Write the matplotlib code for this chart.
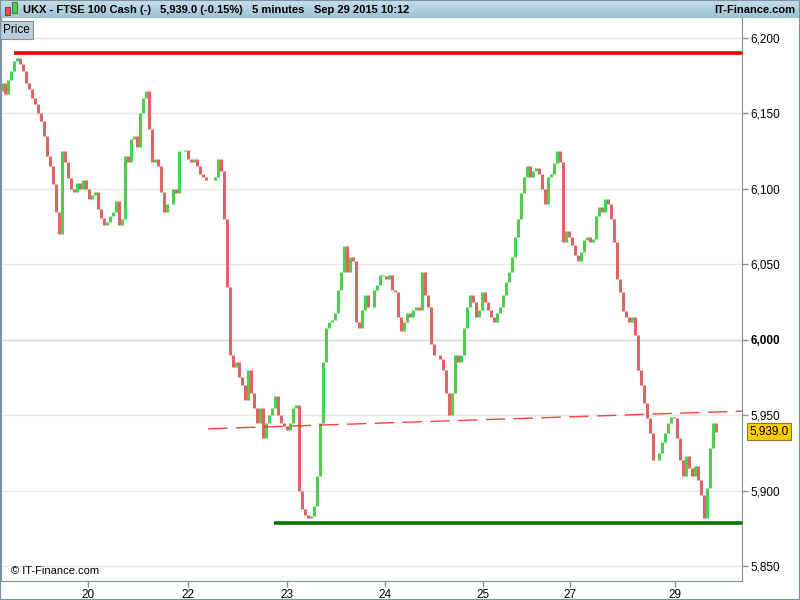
import numpy as np
import matplotlib
matplotlib.use('Agg')
import matplotlib.pyplot as plt
from matplotlib.patches import Rectangle

plt.rcParams['font.family'] = ['Liberation Sans', 'DejaVu Sans']

# 5-minute closes (one bar = ~15 minutes of the original)
closes = [
    6170, 6163, 6172, 6178, 6185, 6187, 6183, 6178, 6170, 6166,
    6160, 6156, 6150, 6145, 6135, 6122, 6115, 6103, 6085, 6070,
    6125, 6118, 6107, 6100, 6098, 6104, 6100, 6106, 6100, 6093,
    6096, 6098, 6087, 6081, 6076, 6078, 6082, 6085, 6092, 6076,
    6080, 6122, 6118, 6133, 6135, 6128, 6150, 6160, 6165, 6140,
    6118, 6120, 6115, 6098, 6085, 6090, 6090, 6100, 6097, 6125,
    6125, 6126, 6120, 6118, 6120, 6115, 6110, 6108, 6106, 6106,
    6106, 6108, 6120, 6112, 6080, 6035, 5990, 5982, 5985, 5975,
    5970, 5960, 5980, 5965, 5955, 5945, 5955, 5935, 5945, 5950,
    5955, 5963, 5950, 5945, 5943, 5940, 5945, 5955, 5957, 5900,
    5888, 5884, 5882, 5883, 5890, 5910, 5945, 5985, 6008, 6012,
    6013, 6018, 6033, 6045, 6062, 6045, 6055, 6052, 6012, 6008,
    6020, 6030, 6022, 6022, 6033, 6036, 6043, 6042, 6040, 6043,
    6033, 6032, 6015, 6006, 6012, 6018, 6015, 6020, 6022, 6020,
    6045, 6030, 6022, 5997, 5990, 5990, 5987, 5980, 5965, 5950,
    5965, 5990, 5985, 5990, 6008, 6022, 6030, 6025, 6015, 6020,
    6032, 6025, 6020, 6015, 6012, 6018, 6022, 6030, 6038, 6045,
    6055, 6068, 6080, 6097, 6108, 6115, 6108, 6112, 6114, 6110,
    6100, 6090, 6108, 6110, 6117, 6125, 6118, 6065, 6072, 6068,
    6063, 6056, 6052, 6058, 6066, 6068, 6065, 6067, 6082, 6088,
    6085, 6093, 6090, 6080, 6065, 6040, 6032, 6019, 6015, 6012,
    6015, 6003, 5980, 5970, 5958, 5948, 5938, 5920, 5920, 5925,
    5932, 5938, 5945, 5949, 5948, 5935, 5920, 5910, 5923, 5915,
    5910, 5916, 5907, 5897, 5882, 5902, 5928, 5945, 5939,
]
first_open = 6165

day_ticks = [28.7, 62, 95, 127.7, 160.3, 189.3, 224.3]
day_labels = ['20', '22', '23', '24', '25', '27', '29']
price_ticks = [5850, 5900, 5950, 6000, 6050, 6100, 6150, 6200]

resistance = 6190
resistance_from = 4
support = 5878.5
support_from = 90.7
trend_x = [68.7, 246.7]
trend_y = [5941, 5952.7]
last_price = 5939.0

green = '#4ccf4c'
red = '#e06464'
frame = '#7d929c'

fig = plt.figure(figsize=(8, 6), dpi=100)
ax = fig.add_axes([1/800, 19/600, 741/800, 563/600])

x = np.arange(len(closes))
opens = np.array([first_open] + closes[:-1], dtype=float)
cl = np.array(closes, dtype=float)
cols = [green if c >= o else red for o, c in zip(opens, cl)]
ax.vlines(x, opens, cl, colors=cols, linewidth=2.2)

ax.set_xlim(-0.4, 246.7)
ax.set_ylim(5840.1, 6213.3)

for p in price_ticks:
    ax.axhline(p, color='#d4d4d4' if p == 6000 else '#e8e8e8', lw=1, zorder=0)

ax.hlines(resistance, resistance_from, 246.7, color='#e80000', lw=2.6, zorder=3)
ax.hlines(support, support_from, 246.7, color='#007400', lw=2.6, zorder=3)
ax.plot(trend_x, trend_y, color='#ff2020', lw=1, dashes=(14, 6), alpha=0.85, zorder=3)

ax.yaxis.tick_right()
ax.set_yticks(price_ticks)
ax.set_yticklabels([f'{p:,}' for p in price_ticks], fontsize=8.5)
for lbl in ax.get_yticklabels():
    if lbl.get_text() == '6,000':
        lbl.set_fontweight('bold')
ax.set_xticks(day_ticks)
ax.set_xticklabels(day_labels, fontsize=8.5)
ax.tick_params(axis='both', length=4, width=1, color=frame, pad=2)
for s in ['left', 'right', 'bottom']:
    ax.spines[s].set_color(frame)
ax.spines['top'].set_visible(False)

ax.text(3, 5843.5, '\u00a9 IT-Finance.com', fontsize=8, va='bottom', ha='left')

# price box on the right
ax.text(1.01, (last_price - 5840.1) / (6213.3 - 5840.1), f'{last_price:,.1f}',
        transform=ax.transAxes, fontsize=8.5, va='center', ha='left',
        bbox=dict(boxstyle='square,pad=0.2', fc='#ffcc00', ec='#8a7a30', lw=0.8))

# "Price" legend tab
ax.text(0.003, 0.99, 'Price', transform=ax.transAxes, fontsize=8.5, va='top', ha='left',
        bbox=dict(boxstyle='square,pad=0.25', fc='#b8cfdb', ec=frame, lw=0.8))

# title bar
tb = fig.add_axes([0, 582/600, 1, 18/600])
grad = np.linspace(0, 1, 50).reshape(-1, 1)
tb.imshow(grad, aspect='auto', cmap=matplotlib.colors.LinearSegmentedColormap.from_list(
    'bar', ['#c4dfea', '#9fc3d2']), extent=[0, 1, 0, 1])
tb.set_xlim(0, 1)
tb.set_ylim(0, 1)
tb.axis('off')
tb.axhline(0.02, color=frame, lw=1)
tb.add_patch(Rectangle((0.006, 0.15), 0.006, 0.45, fc='#e05050', ec='#803030', lw=0.6))
tb.add_patch(Rectangle((0.015, 0.3), 0.006, 0.6, fc='#50d050', ec='#307030', lw=0.6))
for xx, t in [(23, 'UKX - FTSE 100 Cash (-)'), (160, '5,939.0 (-0.15%)'),
              (252, '5 minutes'), (314, 'Sep 29 2015 10:12')]:
    tb.text(xx / 800, 0.45, t, fontsize=8, fontweight='bold', va='center', ha='left')
tb.text(795 / 800, 0.45, 'IT-Finance.com', fontsize=8, fontweight='bold', va='center', ha='right')

fig.patches.append(Rectangle((0, 0), 1, 1, transform=fig.transFigure, fill=False,
                             ec=frame, lw=1.5))

fig.savefig('out.png', dpi=100)
